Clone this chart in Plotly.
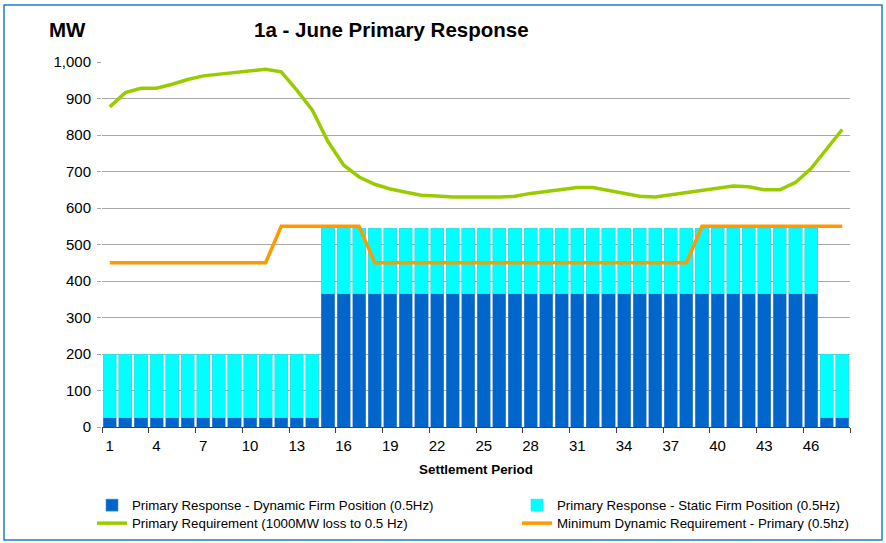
import plotly.graph_objects as go

periods = list(range(1, 49))
dynamic = [25]*14 + [365]*32 + [25]*2
static = [175]*14 + [180]*32 + [175]*2
requirement = [877, 916, 928, 928, 939, 952, 962, 966, 970, 975, 980, 973, 923, 868, 782, 718,
               685, 665, 652, 643, 635, 633, 630, 630, 629, 630, 632, 640, 645, 650, 656, 656,
               648, 638, 632, 630, 636, 642, 647, 653, 660, 658, 650, 650, 670, 708, 760, 815]
min_dynamic = [450]*11 + [550]*6 + [450]*21 + [550]*10
tick_labels = list(range(1, 48, 3))

FONT = "Liberation Sans, Arial, sans-serif"

fig = go.Figure()
fig.add_trace(go.Bar(x=periods, y=dynamic, name="Primary Response - Dynamic Firm Position (0.5Hz)",
                     legend="legend",
                     marker=dict(color="#0066CC", line=dict(color="#5A8FD0", width=0.6))))
fig.add_trace(go.Bar(x=periods, y=static, name="Primary Response - Static Firm Position (0.5Hz)",
                     legend="legend2",
                     marker=dict(color="#00FFFF", line=dict(color="#40D8D8", width=0.6))))
fig.add_trace(go.Scatter(x=periods, y=requirement, mode="lines", name="Primary Requirement (1000MW loss to 0.5 Hz)",
                         legend="legend3",
                         line=dict(color="#99CC00", width=3.5)))
fig.add_trace(go.Scatter(x=periods, y=min_dynamic, mode="lines", name="Minimum Dynamic Requirement - Primary (0.5hz)",
                         legend="legend4",
                         line=dict(color="#FF9900", width=3.5)))

L, R, T, B = 102, 36, 62, 116
W, H = 886, 543
pw, ph = W - L - R, H - T - B

def px_x(x):
    return (x - L) / pw

def px_y(y):
    return (T + ph - y) / ph

leg_common = dict(orientation="v", yanchor="top", xanchor="left",
                  font=dict(size=13.3, family=FONT), tracegroupgap=0, itemwidth=30,
                  bgcolor="rgba(0,0,0,0)", traceorder="normal")
row1, row2 = 504, 522
off = 14
col1, col2 = 92, 517

fig.update_layout(
    width=W, height=H,
    margin=dict(l=L, r=R, t=T, b=B, autoexpand=False),
    barmode="stack", bargap=0.16,
    paper_bgcolor="white", plot_bgcolor="white",
    font=dict(family=FONT, color="black", size=15),
    showlegend=True,
    legend=dict(x=px_x(col1), y=px_y(row1 - off), **leg_common),
    legend2=dict(x=px_x(col2), y=px_y(row1 - off), **leg_common),
    legend3=dict(x=px_x(col1), y=px_y(row2 - off), **leg_common),
    legend4=dict(x=px_x(col2), y=px_y(row2 - off), **leg_common),
    xaxis=dict(range=[0.5, 48.5], tickmode="array", tickvals=tick_labels,
               ticktext=[str(v) for v in tick_labels], ticks="", showgrid=False,
               showline=True, linecolor="#404040", linewidth=1,
               tickfont=dict(size=15, family=FONT), ticklabelstandoff=5,
               minor=dict(tick0=0.5, dtick=3, ticks="outside", ticklen=5, tickcolor="#404040", showgrid=False),
               title=dict(text="<b>Settlement Period</b>", font=dict(size=13.4, family=FONT), standoff=11)),
    yaxis=dict(range=[0, 1000], tickmode="array", tickvals=list(range(0, 1001, 100)),
               tickformat=",", showgrid=True, gridcolor="#A8A8A8", gridwidth=1,
               ticks="outside", ticklen=4, tickcolor="#A8A8A8", zeroline=False,
               showline=False, tickfont=dict(size=15, family=FONT), ticklabelstandoff=3),
    annotations=[
        dict(text="<b>1a - June Primary Response</b>", xref="paper", yref="paper",
             x=px_x(391), y=px_y(30), xanchor="center", yanchor="middle",
             showarrow=False, font=dict(size=20.5, family=FONT)),
        dict(text="<b>MW</b>", xref="paper", yref="paper",
             x=px_x(67), y=px_y(30), xanchor="center", yanchor="middle",
             showarrow=False, font=dict(size=20.5, family=FONT)),
    ],
    shapes=[dict(type="rect", xref="paper", yref="paper",
                 x0=px_x(4), x1=px_x(882), y0=px_y(540), y1=px_y(5),
                 line=dict(color="#1E7FD0", width=1.5), fillcolor="rgba(0,0,0,0)", layer="below")],
)

fig.write_html("out.html", config={"displayModeBar": False})

with open("out.html", "r", encoding="utf-8") as f:
    html = f.read()
html = html.replace("<head>", "<head><style>html,body{margin:0;padding:0;overflow:hidden;}</style>", 1)
with open("out.html", "w", encoding="utf-8") as f:
    f.write(html)
